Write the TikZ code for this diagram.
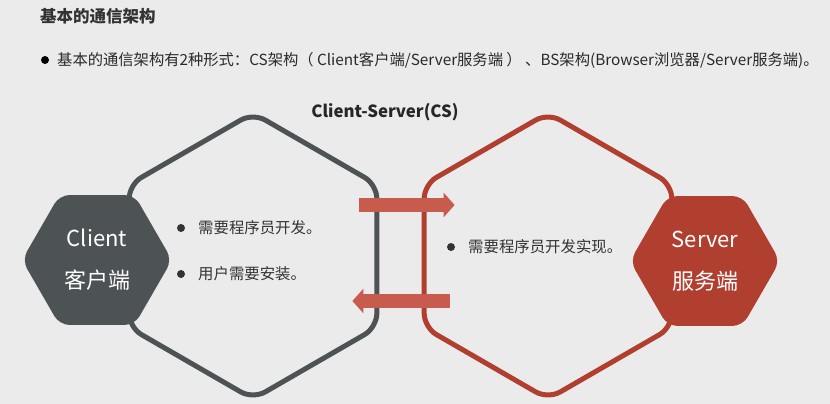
\documentclass[tikz,border=0pt]{standalone}
\usepackage{fontspec}
\setmainfont{Noto Sans CJK SC}
\usetikzlibrary{shapes.geometric,arrows.meta,positioning}
\definecolor{bggray}{HTML}{EBEBEB}
\definecolor{darkhex}{HTML}{4D5355}
\definecolor{redhex}{HTML}{B13F2F}
\definecolor{redarrow}{HTML}{C65B4E}
\definecolor{txtgray}{HTML}{333333}

\begin{document}
\begin{tikzpicture}[x=1pt,y=-1pt,
  bighex/.style={regular polygon,regular polygon sides=6,shape border rotate=30,minimum size=286pt,inner sep=0pt,line width=5pt,rounded corners=14pt},
  smallhex/.style={regular polygon,regular polygon sides=6,minimum size=150pt,inner sep=0pt,rounded corners=10pt,text=white,align=center,font=\fontsize{22}{42}\selectfont},
  bulletdot/.style={circle,fill=txtgray,inner sep=0pt,minimum size=8pt},
  item/.style={anchor=west,inner sep=0pt,text=txtgray,font=\fontsize{15.4}{18}\selectfont},
  flow/.style={line width=14pt,draw=redarrow,-{Triangle[width=24pt,length=11pt]}}]

\path [use as bounding box,fill=bggray] (0,0) rectangle (830,404);

%%%%%%%%%%%%%%%%%%%%%%%%%%%%
\node [anchor=west,inner sep=0pt,text=txtgray,font=\fontsize{16.5}{18}\selectfont\bfseries] (head) at (40,16) {基本的通信架构};
\node [bulletdot,fill=black] (head-1) at (45,60) {};
\node [item,text=txtgray!80!black,font=\fontsize{15.3}{18}\selectfont] (head-2) at ([xshift=12pt]head-1.center) {基本的通信架构有2种形式：CS架构（ Client客户端/Server服务端 ） 、BS架构(Browser浏览器/Server服务端)。};
\node [inner sep=0pt,text=black!85,font=\fontsize{16.8}{18}\selectfont\bfseries] (title) at (385,112) {Client-Server(CS)};

%%%%%%%%%%%%%%%%%%%%%%%%%%%%
\node [bighex,draw=darkhex] (hex1) at (253,256) {};
\node [bighex,draw=redhex] (hex2) at (548,256) {};

\node [smallhex,fill=darkhex] (hex1-1) at (97,260) {Client\\客户端};
\node [smallhex,fill=redhex] (hex2-1) at (705,261) {Server\\服务端};

%%%%%%%%%%%%%%%%%%%%%%%%%%%%
\node [bulletdot] (hex1-2) at (181,228) {};
\node [item] (hex1-3) at ([xshift=17pt]hex1-2.center) {需要程序员开发。};
\node [bulletdot] (hex1-4) at (181,274) {};
\node [item] (hex1-5) at ([xshift=17pt]hex1-4.center) {用户需要安装。};

\node [bulletdot] (hex2-2) at (451,247) {};
\node [item] (hex2-3) at ([xshift=17pt]hex2-2.center) {需要程序员开发实现。};

%%%%%%%%%%%%%%%%%%%%%%%%%%%%
\coordinate (flow1-s) at ([xshift=-20pt]hex1.east |- 0,205);
\coordinate (flow1-e) at ([xshift=33pt]hex2.west |- 0,205);
\coordinate (flow2-s) at ([xshift=28pt]hex2.west |- 0,301);
\coordinate (flow2-e) at ([xshift=-27pt]hex1.east |- 0,301);
\draw [flow] (flow1-s) -- (flow1-e);
\draw [flow] (flow2-s) -- (flow2-e);

\end{tikzpicture}
\end{document}
